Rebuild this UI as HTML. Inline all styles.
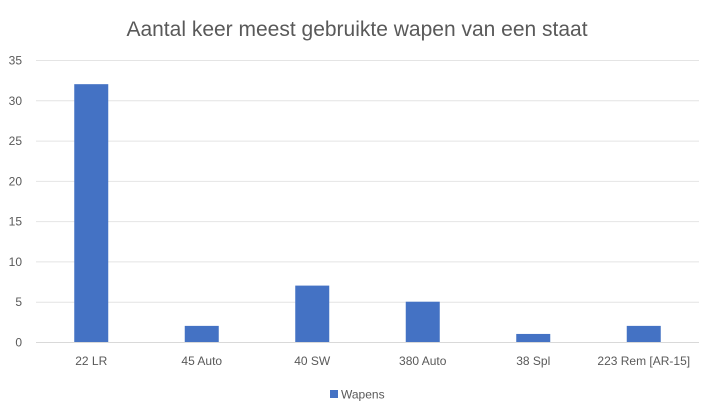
<!DOCTYPE html>
<html><head><meta charset="utf-8">
<style>
html,body{margin:0;padding:0;background:#fff;}
svg{display:block;font-family:"Liberation Sans",sans-serif;}
</style></head>
<body>
<svg id="chart" width="715" height="418" viewBox="0 0 715 418" xmlns="http://www.w3.org/2000/svg">
<rect width="715" height="418" fill="#fff"/>
<text x="357" y="36" text-anchor="middle" font-size="21" fill="#595959">Aantal keer meest gebruikte wapen van een staat</text>
<g id="grid"></g>
<g id="yticks"></g>
<g id="bars"></g>
<g id="xticks"></g>
<g>
<rect x="330" y="390" width="8" height="8" fill="#4472c4"/>
<text x="341" y="398.5" font-size="12" fill="#595959">Wapens</text>
</g>
</svg>
<script>
const categories = ["22 LR","45 Auto","40 SW","380 Auto","38 Spl","223 Rem [AR-15]"];
const values = [32,2,7,5,1,2];
const yTicks = [0,5,10,15,20,25,30,35];
const NS="http://www.w3.org/2000/svg";
const x0=36,x1=699,yBase=342,yTop=60,yMax=35;
const y=v=>yBase-(v/yMax)*(yBase-yTop);
const bw=(x1-x0)/categories.length;
const xc=i=>x0+bw*(i+0.5);
function mk(t,a,p){const e=document.createElementNS(NS,t);for(const k in a)e.setAttribute(k,a[k]);p.appendChild(e);return e;}
const grid=document.getElementById('grid'),yt=document.getElementById('yticks'),bars=document.getElementById('bars'),xt=document.getElementById('xticks');
yTicks.forEach(v=>{
  const l=mk('line',{x1:x0,x2:x1,y1:y(v)+0.5,y2:y(v)+0.5,stroke:v===0?'#d9d9d9':'#e4e4e4','stroke-width':1},grid);
  
  
  const t=mk('text',{x:22,y:y(v)+4.5,'text-anchor':'end','font-size':12,fill:'#595959'},yt);
  t.textContent=v;
  
  
});
values.forEach((v,i)=>{
  const r=mk('rect',{x:xc(i)-17,y:y(v),width:34,height:yBase-y(v),fill:'#4472c4'},bars);
  
  
  const t=mk('text',{x:xc(i),y:365,'text-anchor':'middle','font-size':12,fill:'#595959'},xt);
  t.textContent=categories[i];
  
  
});
</script>
</body></html>
